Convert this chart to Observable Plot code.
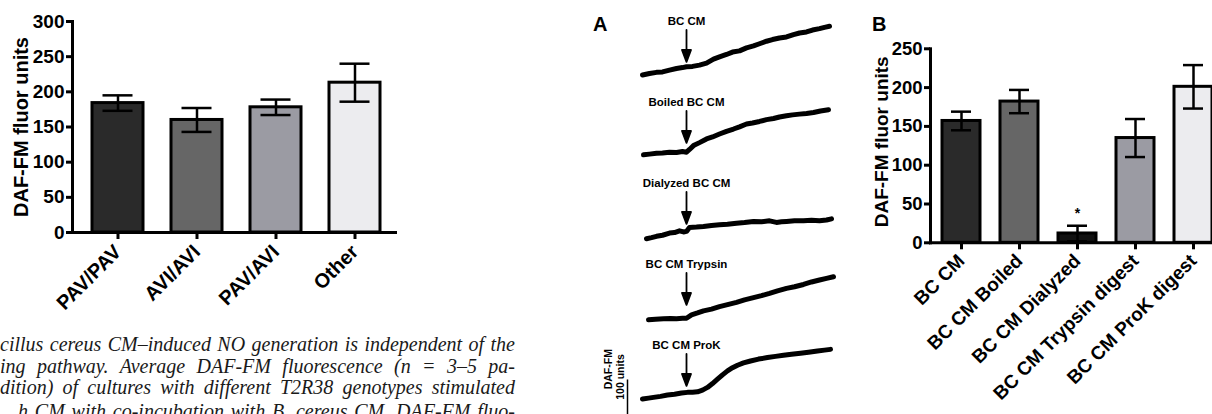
<!DOCTYPE html>
<html><head><meta charset="utf-8">
<script src="https://cdn.jsdelivr.net/npm/d3@7"></script>
<script src="https://cdn.jsdelivr.net/npm/@observablehq/plot@0.6"></script>
<style>
html,body{margin:0;padding:0;background:#fff;}
body{width:1212px;height:414px;overflow:hidden;position:relative;font-family:"Liberation Sans",Arial,sans-serif;}
.abs{position:absolute;}
.abs svg{max-width:none !important;}
.letter{position:absolute;font-weight:bold;font-size:20px;line-height:1;color:#000;}
.cap{position:absolute;width:515px;font-family:"Liberation Serif",serif;font-style:italic;font-size:20px;line-height:1;white-space:normal;text-align:justify;text-align-last:justify;color:#1a1a1a;}
</style>
</head><body>
<div id="left" class="abs" style="left:0;top:0;width:410px"></div>
<div id="panelA" class="abs" style="left:560px;top:0;width:300px"></div>
<div id="panelB" class="abs" style="left:860px;top:0;width:380px"></div>
<div class="letter" style="left:593px;top:14px">A</div>
<div class="letter" style="left:872px;top:14px">B</div>
<div class="cap" style="left:0;top:334px">cillus cereus CM–induced NO generation is independent of the</div>
<div class="cap" style="left:0;top:355.5px">ing pathway. Average DAF-FM fluorescence (n = 3–5 pa-</div>
<div class="cap" style="left:0;top:377px">dition) of cultures with different T2R38 genotypes stimulated</div>
<div class="cap" style="left:18px;width:497px;top:401px">h CM with co-incubation with B. cereus CM. DAF-FM fluo-</div>
<script>
// ---------- Data: left chart (T2R38 genotypes) ----------
const genotypes = ["PAV/PAV", "AVI/AVI", "PAV/AVI", "Other"];
const genotypeMeans = [184, 160, 178, 213];
const genotypeSEM = [11, 17, 11, 27];
const genotypeColors = ["#2a2a2a", "#666666", "#9b9ba3", "#ececef"];
const leftTicks = [0, 50, 100, 150, 200, 250, 300];

// ---------- Data: panel B (treatments) ----------
const treatments = ["BC CM", "BC CM Boiled", "BC CM Dialyzed", "BC CM Trypsin digest", "BC CM ProK digest"];
const treatmentMeans = [157, 182, 12, 135, 201];
const treatmentSEM = [12, 15, 10, 24.5, 28];
const treatmentColors = ["#2a2a2a", "#666666", "#111111", "#9b9ba3", "#ececef"];
const treatmentSignif = ["", "", "*", "", ""];
const rightTicks = [0, 50, 100, 150, 200, 250];

// ---------- Data: panel A traces (time in min, DAF-FM units relative) ----------
const traceNames = ["BC CM", "Boiled BC CM", "Dialyzed BC CM", "BC CM Trypsin", "BC CM ProK"];
const additionTime = 4.4;
const arrowLevel = 22;
const traceBCCM = [[0,0],[0.7,2.5],[1.4,4.5],[2.0,5.2],[2.7,8.3],[3.4,11.0],[4.0,12.5],[4.4,13.8],[5.0,14.5],[5.7,16.7],[6.4,20.0],[7.1,26.7],[7.7,30.5],[8.4,34.5],[9.0,38.5],[9.7,40.5],[10.4,45.5],[11.1,48.8],[11.7,52.5],[12.4,56.7],[13.0,59.5],[13.7,62.2],[14.4,63.8],[15.1,67.8],[15.7,70.5],[16.4,72.2],[17.0,75.5],[17.7,77.8],[18.2,80.0],[18.7,81.7]];
const traceBoiled = [[0.1,2.0],[0.7,3.2],[1.4,4.7],[2.0,5.0],[2.7,6.3],[3.4,6.0],[4.0,7.5],[4.4,6.5],[4.7,11.0],[5.1,17.5],[5.7,22.5],[6.4,28.7],[7.0,32.0],[7.7,37.0],[8.4,41.5],[9.1,45.3],[9.7,49.0],[10.4,53.7],[11.0,55.5],[11.7,58.0],[12.4,61.0],[13.1,63.0],[13.7,65.5],[14.4,67.5],[15.0,69.0],[15.7,70.3],[16.4,71.5],[17.1,73.0],[17.8,75.5],[18.6,77.5]];
const traceDialyzed = [[0.4,-2.8],[0.9,-1.0],[1.4,1.2],[2.0,3.0],[2.7,6.7],[3.2,7.5],[3.7,10.5],[4.1,8.5],[4.4,9.5],[4.7,16.2],[5.4,16.8],[6.1,17.8],[6.9,19.5],[7.7,20.5],[8.5,21.5],[9.4,23.3],[10.2,24.5],[11.1,26.2],[11.9,25.5],[12.7,27.2],[13.4,24.5],[13.9,25.5],[14.4,26.2],[15.2,27.5],[16.1,27.2],[16.9,28.0],[17.7,27.2],[18.4,28.5],[18.9,30.5]];
const traceTrypsin = [[0.6,-3.0],[1.3,-2.0],[2.1,-1.3],[2.8,-0.8],[3.4,-1.3],[4.0,-0.5],[4.4,-0.3],[4.9,5.3],[5.5,8.5],[6.1,12.0],[6.9,15.0],[7.7,19.2],[8.5,22.5],[9.4,26.3],[10.2,30.5],[11.1,34.2],[11.9,37.5],[12.7,41.3],[13.5,45.5],[14.4,49.7],[15.2,52.5],[16.1,56.3],[16.9,60.5],[17.7,63.7],[18.4,66.5],[19.1,69.2]];
const traceProK = [[0,0],[0.6,1.5],[1.1,2.8],[1.8,4.5],[2.5,6.7],[3.2,8.0],[3.9,10.0],[4.5,11.2],[5.0,11.5],[5.5,12.2],[6.0,15.0],[6.5,19.5],[7.0,26.0],[7.5,33.3],[8.0,40.5],[8.5,47.2],[9.0,52.5],[9.5,56.7],[10.1,60.5],[10.8,63.8],[11.6,67.0],[12.5,69.5],[13.3,71.5],[14.1,73.3],[14.9,75.0],[15.8,76.7],[16.6,78.5],[17.5,80.5],[18.2,82.0],[18.8,83.3]];
const scaleBarUnits = 100;

const FONT = "'Liberation Sans', Arial, Helvetica, sans-serif";
const baseStyle = {fontFamily: FONT, fontWeight: "bold", fontSize: "17px", color: "black", background: "transparent", overflow: "visible", maxWidth: "none"};

// ---------- Left bar chart ----------
const leftData = genotypes.map((g, i) => ({g, m: genotypeMeans[i], e: genotypeSEM[i]}));
const leftPlot = Plot.plot({
  width: 410, height: 330, marginLeft: 72, marginRight: 15, marginTop: 21, marginBottom: 98,
  style: baseStyle,
  x: {domain: genotypes, range: [77.4, 394.6], paddingInner: 0.36, paddingOuter: 0.18, label: null, axis: null},
  y: {domain: [0, 300], label: null, axis: null},
  color: {domain: genotypes, range: genotypeColors},
  marks: [
    Plot.barY(leftData, {x: "g", y: "m", fill: "g", stroke: "black", strokeWidth: 3}),
    Plot.ruleX(leftData, {x: "g", y1: d => d.m - d.e, y2: d => d.m + d.e, strokeWidth: 2.5}),
    Plot.tickY(leftData, {x: "g", y: d => d.m + d.e, strokeWidth: 2.5, insetLeft: 10.5, insetRight: 10.5}),
    Plot.tickY(leftData, {x: "g", y: d => d.m - d.e, strokeWidth: 2.5, insetLeft: 10.5, insetRight: 10.5}),
    Plot.frame({anchor: "left", strokeWidth: 3, strokeLinecap: "square"}),
    Plot.frame({anchor: "bottom", strokeWidth: 3, strokeLinecap: "square"}),
    Plot.axisY({ticks: leftTicks, tickSize: 6, tickPadding: 2, strokeWidth: 3, fontSize: 19, label: null}),
    Plot.axisX({tickSize: 7, tickPadding: 9, strokeWidth: 3, tickRotate: -45, fontSize: 20, label: null}),
    Plot.text(["DAF-FM fluor units"], {text: d => d, frameAnchor: "left", textAnchor: "middle", dx: -51, rotate: -90, fontSize: 20})
  ]
});
document.getElementById("left").append(leftPlot);

// ---------- Panel B bar chart ----------
const rightData = treatments.map((c, i) => ({c, m: treatmentMeans[i], e: treatmentSEM[i], s: treatmentSignif[i]}));
const rightPlot = Plot.plot({
  width: 380, height: 340, marginLeft: 70, marginRight: 17.5, marginTop: 48.3, marginBottom: 97.7,
  style: baseStyle,
  x: {domain: treatments, range: [71, 362.5], paddingInner: 0.34, paddingOuter: 0.17, label: null, axis: null},
  y: {domain: [0, 250], label: null, axis: null},
  color: {domain: treatments, range: treatmentColors},
  marks: [
    Plot.barY(rightData, {x: "c", y: "m", fill: "c", stroke: "black", strokeWidth: 3}),
    Plot.ruleX(rightData, {x: "c", y1: d => d.m - d.e, y2: d => d.m + d.e, strokeWidth: 2.5}),
    Plot.tickY(rightData, {x: "c", y: d => d.m + d.e, strokeWidth: 2.5, insetLeft: 9, insetRight: 9}),
    Plot.tickY(rightData, {x: "c", y: d => Math.max(0, d.m - d.e), strokeWidth: 2.5, insetLeft: 9, insetRight: 9}),
    Plot.text(rightData.filter(d => d.s), {x: "c", y: d => d.m + d.e, text: "s", dy: -12, fontSize: 14}),
    Plot.frame({anchor: "left", strokeWidth: 3, strokeLinecap: "square"}),
    Plot.frame({anchor: "bottom", strokeWidth: 3, strokeLinecap: "square"}),
    Plot.axisY({ticks: rightTicks, tickSize: 6, tickPadding: 2, strokeWidth: 3, fontSize: 18.5, label: null}),
    Plot.axisX({tickSize: 7, tickPadding: 8, strokeWidth: 3, tickRotate: -45, fontSize: 19, label: null}),
    Plot.text(["DAF-FM fluor units"], {text: d => d, frameAnchor: "left", textAnchor: "middle", dx: -49, dy: -4, rotate: -90, fontSize: 19})
  ]
});
document.getElementById("panelB").append(rightPlot);

// ---------- Panel A traces ----------
const traceSets = [traceBCCM, traceBoiled, traceDialyzed, traceTrypsin, traceProK];
const traceRows = traceSets.flatMap((pts, i) => pts.map(([t, v]) => ({trace: traceNames[i], t, v})));
const arrowRows = traceNames.map(name => ({trace: name}));
const lastTrace = traceNames[traceNames.length - 1];
const arrowShape = {
  draw(ctx, l) {
    const hl = 12, hw = 4.5;
    ctx.moveTo(0, 0); ctx.lineTo(0, -l + hl);
    ctx.moveTo(-hw, -l + hl); ctx.lineTo(0, -l); ctx.lineTo(hw, -l + hl); ctx.closePath();
  }
};
const barTop = 32;
const aPlot = Plot.plot({
  width: 300, height: 440, marginLeft: 82, marginRight: 28, marginTop: 0, marginBottom: 32.5,
  style: baseStyle,
  fy: {domain: traceNames, padding: 0, axis: null, label: null},
  x: {domain: [0, 19], axis: null},
  y: {domain: [-12.5, 123.3], axis: null},
  marks: [
    Plot.line(traceRows, {x: "t", y: "v", fy: "trace", z: "trace", stroke: "black", strokeWidth: 5, strokeLinejoin: "round", strokeLinecap: "round"}),
    Plot.vector(arrowRows, {x: additionTime, y: arrowLevel, fy: "trace", length: 32, rotate: 180, anchor: "end", shape: arrowShape, fill: "black", stroke: "black", strokeWidth: 1.8}),
    Plot.text(arrowRows, {x: additionTime, y: arrowLevel, fy: "trace", text: "trace", dy: -41, fontSize: 11.5}),
    Plot.ruleX([{trace: lastTrace}], {x: -1.5, y1: barTop - scaleBarUnits, y2: barTop, fy: "trace", strokeWidth: 1.5}),
    Plot.text([{trace: lastTrace, label: "DAF-FM"}], {x: -3.4, y: 50, fy: "trace", text: "label", rotate: -90, fontSize: 10.5}),
    Plot.text([{trace: lastTrace, label: "100 units"}], {x: -2.2, y: 37, fy: "trace", text: "label", rotate: -90, fontSize: 10.5})
  ]
});
document.getElementById("panelA").append(aPlot);
</script>
</body></html>
